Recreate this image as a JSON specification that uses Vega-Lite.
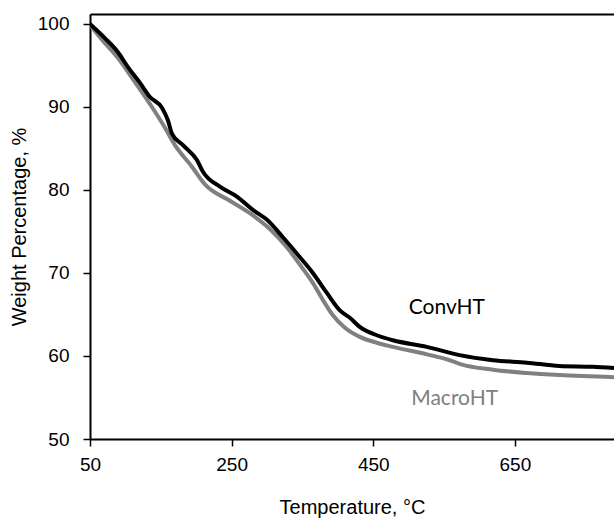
{
  "$schema": "https://vega.github.io/schema/vega-lite/v6.json",
  "width": 524,
  "height": 425,
  "autosize": "none",
  "padding": {"left": 90, "top": 14, "right": 0, "bottom": 81},
  "background": "white",
  "config": {
    "view": {"stroke": null},
    "axis": {
      "grid": false,
      "labelFlush": false,
      "labelFont": "Liberation Sans",
      "labelFontSize": 19,
      "labelColor": "black",
      "titleFont": "Liberation Sans",
      "titleFontSize": 20,
      "titleFontWeight": "normal",
      "titleColor": "black",
      "domainColor": "black",
      "domainWidth": 2,
      "tickColor": "black",
      "tickWidth": 1.5,
      "tickSize": 7
    }
  },
  "datasets": {
    "curves": [
      {"series": "ConvHT", "T": 50, "W": 100.0},
      {"series": "ConvHT", "T": 71, "W": 98.3},
      {"series": "ConvHT", "T": 89.5, "W": 96.6},
      {"series": "ConvHT", "T": 103.6, "W": 94.8},
      {"series": "ConvHT", "T": 120.6, "W": 92.9},
      {"series": "ConvHT", "T": 134.7, "W": 91.2},
      {"series": "ConvHT", "T": 151.6, "W": 89.9},
      {"series": "ConvHT", "T": 160, "W": 88.4},
      {"series": "ConvHT", "T": 165.7, "W": 86.8},
      {"series": "ConvHT", "T": 181.3, "W": 85.4},
      {"series": "ConvHT", "T": 201, "W": 83.6},
      {"series": "ConvHT", "T": 209.5, "W": 82.2},
      {"series": "ConvHT", "T": 233.5, "W": 80.4},
      {"series": "ConvHT", "T": 257.5, "W": 79.2},
      {"series": "ConvHT", "T": 280, "W": 77.6},
      {"series": "ConvHT", "T": 300, "W": 76.4},
      {"series": "ConvHT", "T": 322.4, "W": 74.3},
      {"series": "ConvHT", "T": 346.4, "W": 71.9},
      {"series": "ConvHT", "T": 364.7, "W": 70.0},
      {"series": "ConvHT", "T": 384.5, "W": 67.6},
      {"series": "ConvHT", "T": 402.9, "W": 65.5},
      {"series": "ConvHT", "T": 417, "W": 64.6},
      {"series": "ConvHT", "T": 431, "W": 63.5},
      {"series": "ConvHT", "T": 455, "W": 62.5},
      {"series": "ConvHT", "T": 477.7, "W": 61.9},
      {"series": "ConvHT", "T": 525.6, "W": 61.1},
      {"series": "ConvHT", "T": 572, "W": 60.1},
      {"series": "ConvHT", "T": 619, "W": 59.5},
      {"series": "ConvHT", "T": 667, "W": 59.2},
      {"series": "ConvHT", "T": 713, "W": 58.8},
      {"series": "ConvHT", "T": 760, "W": 58.7},
      {"series": "ConvHT", "T": 790, "W": 58.55},
      {"series": "MacroHT", "T": 50, "W": 99.9},
      {"series": "MacroHT", "T": 66.9, "W": 98.1},
      {"series": "MacroHT", "T": 89.5, "W": 95.9},
      {"series": "MacroHT", "T": 113.5, "W": 93.0},
      {"series": "MacroHT", "T": 137.5, "W": 90.0},
      {"series": "MacroHT", "T": 155.9, "W": 87.5},
      {"series": "MacroHT", "T": 170, "W": 85.4},
      {"series": "MacroHT", "T": 194, "W": 82.8},
      {"series": "MacroHT", "T": 212, "W": 80.7},
      {"series": "MacroHT", "T": 247.6, "W": 78.7},
      {"series": "MacroHT", "T": 275.8, "W": 77.2},
      {"series": "MacroHT", "T": 304, "W": 75.3},
      {"series": "MacroHT", "T": 328, "W": 73.1},
      {"series": "MacroHT", "T": 346.4, "W": 71.0},
      {"series": "MacroHT", "T": 364.7, "W": 68.8},
      {"series": "MacroHT", "T": 378.9, "W": 66.75},
      {"series": "MacroHT", "T": 393, "W": 64.9},
      {"series": "MacroHT", "T": 410, "W": 63.4},
      {"series": "MacroHT", "T": 431, "W": 62.3},
      {"series": "MacroHT", "T": 455, "W": 61.6},
      {"series": "MacroHT", "T": 477.7, "W": 61.1},
      {"series": "MacroHT", "T": 525.6, "W": 60.2},
      {"series": "MacroHT", "T": 556, "W": 59.55},
      {"series": "MacroHT", "T": 574, "W": 59.0},
      {"series": "MacroHT", "T": 619, "W": 58.35},
      {"series": "MacroHT", "T": 667, "W": 57.95},
      {"series": "MacroHT", "T": 713, "W": 57.7},
      {"series": "MacroHT", "T": 790, "W": 57.45}
    ],
    "labels": [
      {"series": "ConvHT", "T": 554, "W": 65.1},
      {"series": "MacroHT", "T": 565, "W": 54.1}
    ]
  },
  "resolve": {"axis": {"x": "independent"}},
  "layer": [
    {
      "data": {"name": "curves"},
      "transform": [{"filter": "datum.series === 'MacroHT'"}],
      "mark": {"type": "line", "strokeWidth": 4, "clip": true, "interpolate": "monotone"},
      "encoding": {
        "x": {
          "field": "T", "type": "quantitative",
          "scale": {"domain": [50, 790], "nice": false, "zero": false},
          "axis": {"values": [50, 250, 450, 650], "labelPadding": 9, "title": "Temperature,  °C", "titleY": 68, "titleBaseline": "middle"}
        },
        "y": {
          "field": "W", "type": "quantitative",
          "scale": {"domain": [50, 101.2], "nice": false, "zero": false},
          "axis": {"values": [50, 60, 70, 80, 90, 100], "labelPadding": 14, "title": "Weight Percentage, %", "titlePadding": 8}
        },
        "color": {"field": "series", "type": "nominal", "scale": {"domain": ["ConvHT", "MacroHT"], "range": ["#000000", "#808080"]}, "legend": null}
      }
    },
    {
      "data": {"name": "curves"},
      "transform": [{"filter": "datum.series === 'ConvHT'"}],
      "mark": {"type": "line", "strokeWidth": 4, "clip": true, "interpolate": "monotone"},
      "encoding": {
        "x": {"field": "T", "type": "quantitative", "axis": {"orient": "top", "labels": false, "ticks": false, "title": null}},
        "y": {"field": "W", "type": "quantitative"},
        "color": {"field": "series", "type": "nominal", "legend": null}
      }
    },
    {
      "data": {"name": "labels"},
      "mark": {"type": "text", "font": "Lato", "fontSize": 21, "align": "center", "baseline": "alphabetic"},
      "encoding": {
        "x": {"field": "T", "type": "quantitative", "axis": null},
        "y": {"field": "W", "type": "quantitative"},
        "text": {"field": "series"},
        "color": {"field": "series", "type": "nominal", "legend": null}
      }
    }
  ]
}
